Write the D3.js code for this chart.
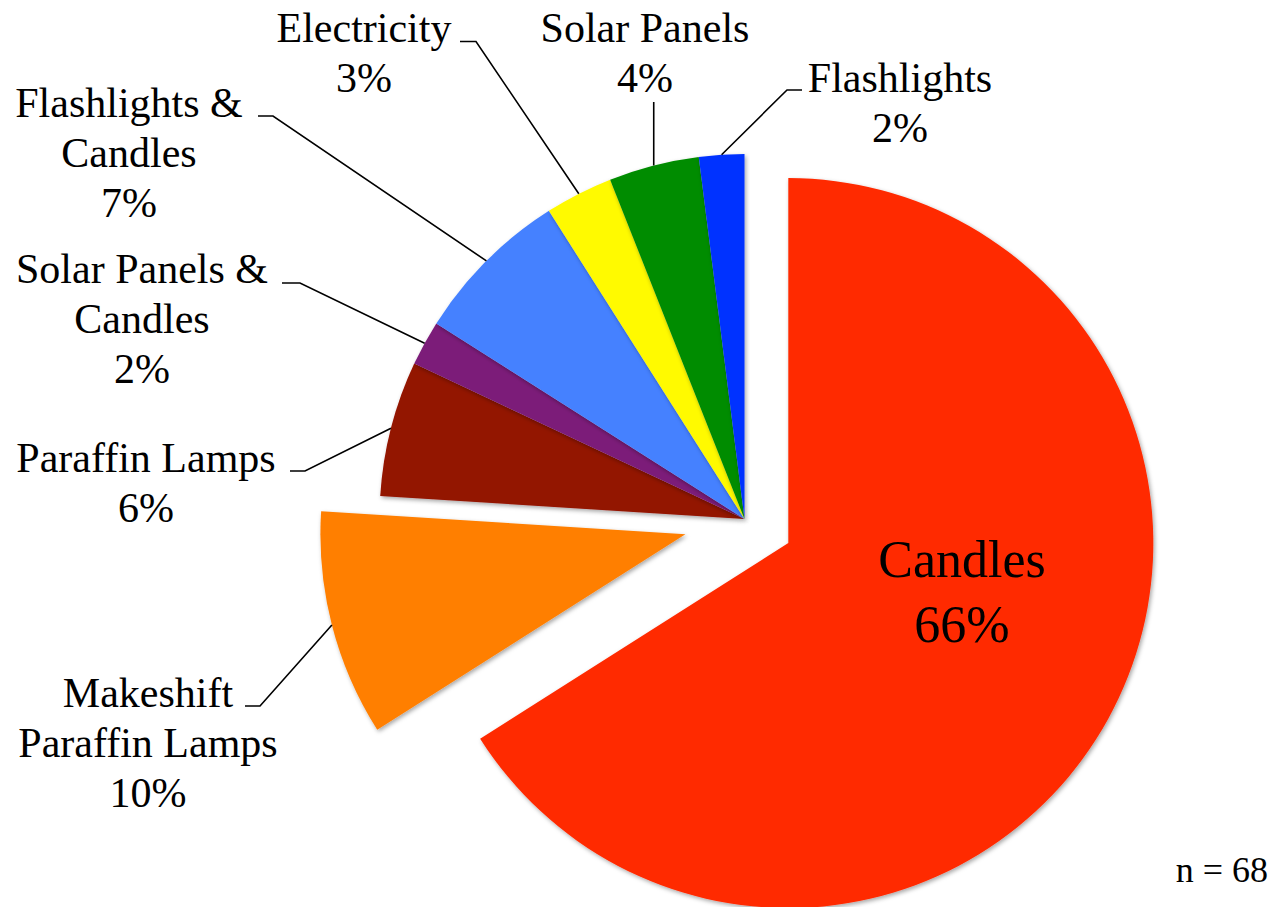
<!DOCTYPE html>
<html>
<head>
<meta charset="utf-8">
<script src="https://cdn.jsdelivr.net/npm/d3@7"></script>
<style>
  html, body { margin: 0; padding: 0; background: #fff; }
  svg { display: block; }
</style>
</head>
<body>
<svg id="chart" width="1287" height="907"></svg>
<script>
// Household lighting sources, share of respondents (n = 68)
const categories = [
  "Candles",
  "Makeshift Paraffin Lamps",
  "Paraffin Lamps",
  "Solar Panels & Candles",
  "Flashlights & Candles",
  "Electricity",
  "Solar Panels",
  "Flashlights"
];
const percents = [66, 10, 6, 2, 7, 3, 4, 2];
const labelRows = [
  ["Candles"],
  ["Makeshift", "Paraffin Lamps"],
  ["Paraffin Lamps"],
  ["Solar Panels &", "Candles"],
  ["Flashlights &", "Candles"],
  ["Electricity"],
  ["Solar Panels"],
  ["Flashlights"]
];
const sampleSize = 68;

// Styling and layout
const serif = "'Liberation Serif', 'Times New Roman', serif";
const colors = ["#ff2a00", "#ff7f00", "#931300", "#7b1b79", "#4481ff", "#fffa00", "#008c00", "#0533ff"];
const explode = { "Candles": 50, "Makeshift Paraffin Lamps": 61 };
const center = [744.5, 519];
const radius = 365;
const fontSize = 42, lineGap = 50;

// Outside labels: text centre, first baseline, and the elbow of the leader line
const outside = {
  "Makeshift Paraffin Lamps": { x: 148, y: 707, stub: [[245, 706], [260, 706]] },
  "Paraffin Lamps":           { x: 146, y: 472, stub: [[290, 471], [305, 471]] },
  "Solar Panels & Candles":   { x: 142, y: 283, stub: [[282, 283], [300, 283]] },
  "Flashlights & Candles":    { x: 129, y: 117, stub: [[258, 116], [273, 116]] },
  "Electricity":              { x: 364, y: 42,  stub: [[460, 41.5], [476, 41.5]] },
  "Solar Panels":             { x: 645, y: 42,  vertical: 102 },
  "Flashlights":              { x: 900, y: 92,  stub: [[802, 90], [787, 90]] }
};

const svg = d3.select("#chart").attr("font-family", serif);

const defs = svg.append("defs");
const shadow = defs.append("filter").attr("id", "sliceShadow")
  .attr("x", "-10%").attr("y", "-10%").attr("width", "120%").attr("height", "120%");
shadow.append("feDropShadow")
  .attr("dx", 1.5).attr("dy", 2).attr("stdDeviation", 2)
  .attr("flood-color", "#000").attr("flood-opacity", 0.35);

const data = categories.map((c, i) => ({ name: c, value: percents[i], rows: labelRows[i], color: colors[i] }));

const pie = d3.pie().value(d => d.value).sort(null).startAngle(0).endAngle(2 * Math.PI);
const arcs = pie(data);
const arc = d3.arc().innerRadius(0).outerRadius(radius);

function offsetOf(a) {
  const dist = explode[a.data.name] || 0;
  const mid = (a.startAngle + a.endAngle) / 2;
  return [dist * Math.sin(mid), -dist * Math.cos(mid)];
}

const g = svg.append("g").attr("transform", `translate(${center[0]},${center[1]})`);

g.selectAll("path.slice")
  .data(arcs)
  .join("path")
  .attr("class", "slice")
  .attr("d", arc)
  .attr("fill", d => d.data.color)
  .attr("filter", "url(#sliceShadow)")
  .attr("transform", d => { const o = offsetOf(d); return `translate(${o[0]},${o[1]})`; });

// Leader lines from the labels to the rim of each slice
const line = d3.line();
arcs.forEach(a => {
  const spec = outside[a.data.name];
  if (!spec) return;
  const o = offsetOf(a);
  const mid = (a.startAngle + a.endAngle) / 2;
  const rim = [center[0] + o[0] + radius * Math.sin(mid), center[1] + o[1] - radius * Math.cos(mid)];
  const pts = spec.vertical !== undefined ? [[rim[0], spec.vertical], rim] : [...spec.stub, rim];
  svg.append("path")
    .attr("d", line(pts))
    .attr("fill", "none")
    .attr("stroke", "#000")
    .attr("stroke-width", 1.6);
});

// Labels
arcs.forEach(a => {
  const rows = [...a.data.rows, a.data.value + "%"];
  let x, y, size, gap;
  const spec = outside[a.data.name];
  if (spec) {
    x = spec.x; y = spec.y; size = fontSize; gap = lineGap;
  } else {
    // inside label for the dominant slice
    x = 962; y = 577; size = 52; gap = 65;
  }
  const t = svg.append("text")
    .attr("font-family", serif)
    .attr("fill", "#000")
    .attr("text-anchor", "middle")
    .attr("font-size", size);
  rows.forEach((r, i) => {
    t.append("tspan").attr("x", x).attr("y", y + i * gap).text(r);
  });
});

svg.append("text")
  .attr("font-family", serif)
  .attr("fill", "#000")
  .attr("x", 1268).attr("y", 882)
  .attr("text-anchor", "end")
  .attr("font-size", 36)
  .text("n = " + sampleSize);
</script>
</body>
</html>
